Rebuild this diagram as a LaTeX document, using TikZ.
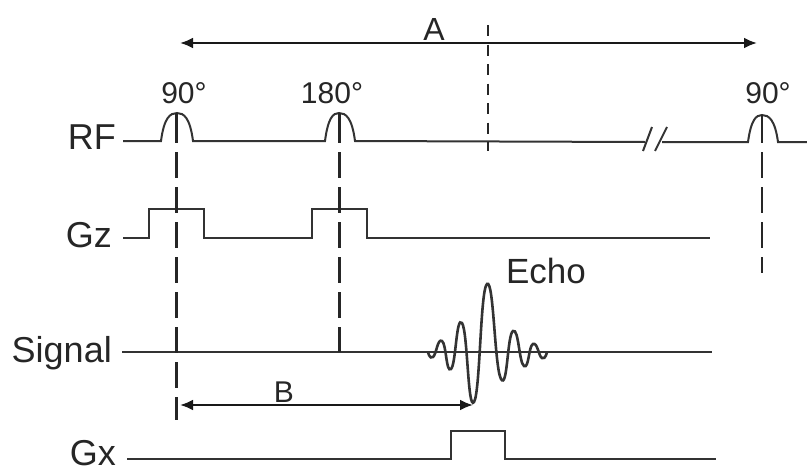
\documentclass[tikz,border=0pt]{standalone}
\usepackage{fontspec}
\setmainfont{Liberation Sans}
\usetikzlibrary{arrows.meta}

\begin{document}
\begin{tikzpicture}[
    x=1pt, y=-1pt,
    trace/.style={draw=black!80, line width=2pt},
    guide/.style={draw=black!85, line width=2.3pt, dash pattern=on 26pt off 9pt},
    midguide/.style={draw=black!85, line width=2pt, dash pattern=on 11pt off 8.5pt},
    span/.style={{Latex[length=13pt,width=11pt]}-{Latex[length=13pt,width=11pt]}, draw=black!90, line width=2.3pt},
    axislabel/.style={anchor=base east, font=\fontsize{36}{36}\selectfont, text=black!85, inner sep=0pt},
    marklabel/.style={anchor=base, font=\fontsize{30}{30}\selectfont, text=black!85, inner sep=0pt}
]
    \useasboundingbox (0,0) rectangle (807,466);

    % Channel labels
    \node[axislabel] (rf) at (116,149) {RF};
    \node[axislabel] (gz) at (112,247) {Gz};
    \node[axislabel] (signal) at (112,362) {Signal};
    \node[axislabel] (gx) at (116,465) {Gx};

    % Flip angles and interval labels
    \node[marklabel] (flipa) at (184,103) {90°};
    \node[marklabel] (flipb) at (332,103) {180°};
    \node[marklabel] (flipc) at (768,103) {90°};
    \node[marklabel, font=\fontsize{35}{35}\selectfont] (echo) at (546,283) {Echo};
    \node[marklabel, font=\fontsize{32}{32}\selectfont] (lbla) at (434,40) {A};
    \node[marklabel] (lblb) at (284,402) {B};

    % RF line with the three pulses and the break
    \draw[trace] (123,141) -- (161,141) .. controls (164,118) and (170,113) .. (177,113) .. controls (184,113) and (190,118) .. (193,141)
        -- (325,141) .. controls (328,118) and (333,113) .. (339,113) .. controls (346,113) and (352,118) .. (355,141)
        -- (645,142);
    \draw[trace] (662,142) -- (748,142) .. controls (751,120) and (756,115) .. (762,115) .. controls (769,115) and (775,120) .. (778,142) -- (807,142);
    \draw[trace] (643,151) -- (652,127);
    \draw[trace] (655,151) -- (667,127);

    % Gz
    \draw[trace] (123,238) -- (149,238) -- (149,209) -- (204,209) -- (204,238) -- (312,238) -- (312,209) -- (367,209) -- (367,238) -- (710,238);

    % Signal and echo
    \draw[trace] (122,352) -- (712,352);
    \draw[trace, line width=2.6pt] plot[smooth, tension=0.9] coordinates {(428,352) (433,357) (442,341) (451,369) (462,323) (474,402) (487,284) (501,379) (513,331) (524,366) (533,344) (542,358) (547,352)};

    % Gx
    \draw[trace] (127,459) -- (451,459) -- (451,431) -- (505,431) -- (505,459) -- (716,459);

    % Dashed guides, the short first piece closes the gap up to the pulse top
    \draw[guide] (176.5,113) -- (176.5,117) (176.5,117) -- (176.5,420);
    \draw[guide] (339.5,113) -- (339.5,117) (339.5,117) -- (339.5,352);
    \draw[guide] (762,115) -- (762,117) (762,117) -- (762,273);
    \draw[midguide] (487.5,25) -- (487.5,151);

    % Intervals
    \draw[span] (180,43) -- (757,43);
    \draw[span] (180,405) -- (473,405);
\end{tikzpicture}
\end{document}
